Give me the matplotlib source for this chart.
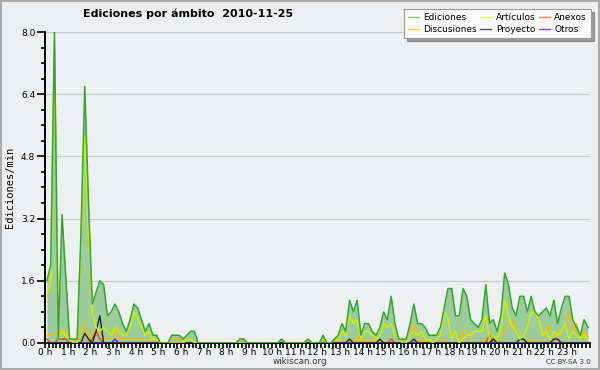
import numpy as np
import matplotlib
matplotlib.use("Agg")
import matplotlib.pyplot as plt
from matplotlib.lines import Line2D
from matplotlib.patches import Rectangle
from matplotlib.ticker import MultipleLocator, FormatStrFormatter

# edits per minute, 10-minute bins (144 per day)
ediciones = [
    1.6, 2.0, 8.0, 0.1, 3.3, 1.7, 0.1, 0.1, 0.1, 2.8, 6.6, 3.6, 1.0, 1.3, 1.6, 1.5, 0.7, 0.8, 1.0, 0.8,
    0.5, 0.3, 0.6, 1.0, 0.9, 0.6, 0.3, 0.5, 0.2, 0.2, 0.0, 0.0, 0.0, 0.2, 0.2, 0.2, 0.1, 0.2, 0.3, 0.3,
    0.0, 0.0, 0.0, 0.0, 0.0, 0.0, 0.0, 0.0, 0.0, 0.0, 0.0, 0.1, 0.1, 0.0, 0.0, 0.0, 0.0, 0.0, 0.0, 0.0,
    0.0, 0.0, 0.1, 0.0, 0.0, 0.0, 0.0, 0.0, 0.0, 0.1, 0.0, 0.0, 0.0, 0.2, 0.0, 0.0, 0.1, 0.2, 0.5, 0.3,
    1.1, 0.8, 1.1, 0.2, 0.5, 0.5, 0.3, 0.2, 0.4, 0.8, 0.6, 1.2, 0.5, 0.1, 0.1, 0.1, 0.5, 1.0, 0.5, 0.5,
    0.4, 0.2, 0.2, 0.2, 0.4, 0.9, 1.4, 1.4, 0.7, 0.7, 1.4, 1.2, 0.6, 0.5, 0.4, 0.6, 1.5, 0.5, 0.6, 0.3,
    0.7, 1.8, 1.5, 0.9, 0.7, 1.2, 1.2, 0.8, 1.2, 0.8, 0.7, 0.8, 0.9, 0.7, 1.1, 0.5, 0.9, 1.2, 1.2, 0.6,
    0.4, 0.2, 0.6, 0.4,
]
articulos = [
    1.2, 1.6, 7.7, 0.1, 0.3, 0.2, 0.1, 0.0, 0.0, 2.5, 5.3, 2.8, 0.8, 0.4, 0.3, 0.4, 0.3, 0.2, 0.4, 0.3,
    0.2, 0.2, 0.4, 0.8, 0.6, 0.4, 0.2, 0.3, 0.1, 0.1, 0.0, 0.0, 0.0, 0.0, 0.0, 0.0, 0.0, 0.1, 0.1, 0.0,
    0.0, 0.0, 0.0, 0.0, 0.0, 0.0, 0.0, 0.0, 0.0, 0.0, 0.0, 0.0, 0.0, 0.0, 0.0, 0.0, 0.0, 0.0, 0.0, 0.0,
    0.0, 0.0, 0.1, 0.0, 0.0, 0.0, 0.0, 0.0, 0.0, 0.1, 0.0, 0.0, 0.0, 0.1, 0.0, 0.0, 0.1, 0.1, 0.3, 0.2,
    0.7, 0.5, 0.6, 0.1, 0.3, 0.3, 0.2, 0.1, 0.2, 0.5, 0.4, 0.5, 0.2, 0.1, 0.0, 0.0, 0.2, 0.3, 0.2, 0.3,
    0.1, 0.1, 0.0, 0.1, 0.2, 0.8, 0.6, 0.1, 0.3, 0.0, 0.1, 0.2, 0.2, 0.3, 0.3, 0.3, 0.7, 0.1, 0.2, 0.1,
    0.4, 1.1, 0.7, 0.4, 0.3, 0.1, 0.2, 0.4, 0.8, 0.8, 0.6, 0.2, 0.3, 0.1, 0.3, 0.2, 0.3, 0.5, 0.1, 0.3,
    0.2, 0.1, 0.2, 0.1,
]
discusiones = [
    0.2, 0.2, 0.2, 0.3, 0.3, 0.3, 0.1, 0.0, 0.0, 0.2, 0.5, 0.0, 0.3, 0.3, 0.3, 0.1, 0.1, 0.1, 0.4, 0.1,
    0.1, 0.1, 0.1, 0.1, 0.1, 0.1, 0.0, 0.1, 0.1, 0.0, 0.0, 0.0, 0.0, 0.1, 0.1, 0.1, 0.0, 0.0, 0.0, 0.0,
    0.0, 0.0, 0.0, 0.0, 0.0, 0.0, 0.0, 0.0, 0.0, 0.0, 0.0, 0.1, 0.1, 0.0, 0.0, 0.0, 0.0, 0.0, 0.0, 0.0,
    0.0, 0.0, 0.0, 0.0, 0.0, 0.0, 0.0, 0.0, 0.0, 0.0, 0.0, 0.0, 0.0, 0.0, 0.0, 0.0, 0.0, 0.1, 0.0, 0.0,
    0.1, 0.0, 0.2, 0.0, 0.1, 0.0, 0.1, 0.0, 0.1, 0.0, 0.0, 0.1, 0.0, 0.0, 0.0, 0.0, 0.2, 0.5, 0.2, 0.0,
    0.1, 0.0, 0.0, 0.0, 0.0, 0.1, 0.0, 0.0, 0.0, 0.0, 0.3, 0.3, 0.1, 0.0, 0.0, 0.0, 0.1, 0.0, 0.1, 0.0,
    0.1, 0.3, 0.5, 0.6, 0.3, 0.1, 0.0, 0.0, 0.1, 0.0, 0.0, 0.0, 0.4, 0.4, 0.1, 0.0, 0.3, 0.5, 0.8, 0.3,
    0.5, 0.1, 0.3, 0.1,
]
# sparse series: {bin index: value}
anexos = {0: 0.1, 3: 0.1, 4: 0.1, 5: 0.1, 12: 0.1, 13: 0.3, 14: 0.1, 91: 0.1, 117: 0.2}
proyecto = {10: 0.25, 11: 0.1, 13: 0.3, 14: 0.7, 73: 0.1, 80: 0.1, 88: 0.1, 97: 0.1,
            118: 0.1, 125: 0.1, 126: 0.1, 134: 0.1, 135: 0.1}
otros = {18: 0.1}

hour_labels = [f"{h} h" for h in range(24)]


def dense(d, n=144):
    out = np.zeros(n)
    for k, v in d.items():
        out[k] = v
    return out


n = len(ediciones)
t = (np.arange(n) + 0.5) / 6.0

bg = "#eeeff1"
fig = plt.figure(figsize=(6, 3.7), dpi=100, facecolor=bg)
ax = fig.add_axes([0.075, 0.073, 0.908, 0.8405])
ax.set_facecolor(bg)

ax.fill_between(t, 0, ediciones, color="#9ccb9c", lw=0, zorder=2)
ax.plot(t, discusiones, color="#ffbb00", lw=1.0, zorder=3)
ax.plot(t, dense(anexos), color="#ee4411", lw=1.0, zorder=3)
ax.plot(t, dense(proyecto), color="#222222", lw=1.0, zorder=4)
ax.plot(t, dense(otros), color="#5522ee", lw=1.0, zorder=3)
ax.plot(t, articulos, color="#ccf000", lw=1.1, zorder=4)
ax.plot(t, ediciones, color="#33a533", lw=1.1, zorder=5)

ax.set_xlim(0, 24)
ax.set_ylim(0, 8.0)
ax.yaxis.set_major_locator(MultipleLocator(1.6))
ax.yaxis.set_minor_locator(MultipleLocator(0.4))
ax.yaxis.set_major_formatter(FormatStrFormatter("%.1f"))
ax.set_xticks(range(24))
ax.set_xticklabels(hour_labels)
ax.xaxis.set_minor_locator(MultipleLocator(1 / 6))
ax.grid(axis="y", color="#c8c8c8", lw=0.9, zorder=1)

for s in ("top", "right"):
    ax.spines[s].set_visible(False)
ax.spines["left"].set_linewidth(1.4)
ax.spines["bottom"].set_linewidth(1.4)
ax.tick_params(axis="x", which="both", direction="out", length=3.5, width=1.2, labelsize=6.5, pad=0)
ax.tick_params(axis="y", which="major", direction="out", length=6, width=1.2, labelsize=6.5, pad=1)
ax.tick_params(axis="y", which="minor", direction="out", length=3, width=1.2)

ax.set_ylabel("Ediciones/min", family="DejaVu Sans Mono", fontsize=7.5, labelpad=4)

fig.text(0.313, 0.962, "Ediciones por ámbito  2010-11-25", ha="center", va="center",
         fontsize=8, fontweight="bold")
fig.text(0.5, 0.022, "wikiscan.org", ha="center", va="center", fontsize=6.3, color="#333333")
fig.text(0.985, 0.022, "CC BY-SA 3.0", ha="right", va="center", fontsize=5, color="#333333")

handles = [
    Line2D([], [], color="#7fcc7f", lw=1.0, label="Ediciones"),
    Line2D([], [], color="#ffcc44", lw=1.0, label="Discusiones"),
    Line2D([], [], color="#ccff66", lw=1.0, label="Artículos"),
    Line2D([], [], color="#555555", lw=1.0, label="Proyecto"),
    Line2D([], [], color="#ff8844", lw=1.0, label="Anexos"),
    Line2D([], [], color="#8844ee", lw=1.0, label="Otros"),
]
leg = fig.legend(handles=handles, ncol=3, loc="upper right", bbox_to_anchor=(0.985, 0.975),
                 fontsize=6.5, frameon=True, fancybox=False, shadow=True, handlelength=1.2,
                 handletextpad=0.5, columnspacing=0.4, labelspacing=0.3, borderpad=0.45,
                 borderaxespad=0)
leg.get_frame().set_facecolor("#fbfbfb")
leg.get_frame().set_edgecolor("#999999")
leg.get_frame().set_linewidth(0.8)

fig.patches.append(Rectangle((0.001, 0.002), 0.997, 0.996, transform=fig.transFigure,
                             fill=False, edgecolor="#aaaaaa", lw=1.5))

fig.savefig("out.png", dpi=100, facecolor=bg)
